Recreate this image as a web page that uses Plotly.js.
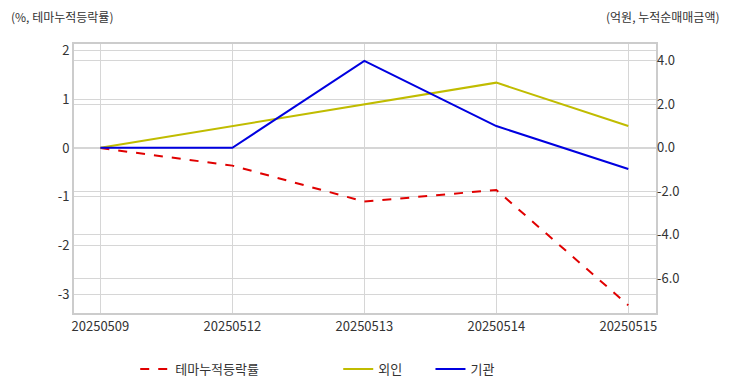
<!DOCTYPE html>
<html><head><meta charset="utf-8">
<script src="https://cdn.plot.ly/plotly-3.0.1.min.js"></script>
<style>body{margin:0;background:#fff}#c{width:732px;height:392px}</style>
</head><body><div id="c"></div>
<script>
const dates = ["20250509","20250512","20250513","20250514","20250515"];
const themeRate = [0, -0.36, -1.1, -0.86, -3.23];
const foreign = [0, 1.0, 2.0, 3.0, 1.0];
const inst = [0, 0, 4.0, 1.0, -0.98];
const leftTicks = [-3,-2,-1,0,1,2];
const leftTickText = ["-3","-2","-1","0","1","2"];
const rightTicks = [-6,-4,-2,0,2,4];
const rightTickText = ["-6.0","-4.0","-2.0","0.0","2.0","4.0"];
const FONT = "'Noto Sans CJK KR', 'Noto Sans', sans-serif";
const traces = [
  {x: dates, y: themeRate, name: "테마누적등락률", type: "scatter", mode: "lines",
   line: {color: "#e00000", width: 2, dash: "dash"}, yaxis: "y", legend: "legend"},
  {x: dates, y: foreign, name: "외인", type: "scatter", mode: "lines",
   line: {color: "#c0bc00", width: 2}, yaxis: "y2", legend: "legend2"},
  {x: dates, y: inst, name: "기관", type: "scatter", mode: "lines",
   line: {color: "#0000e0", width: 2}, yaxis: "y2", legend: "legend3"}
];
const legBase = {orientation: "h", y: -0.208, yanchor: "middle", xanchor: "left",
  font: {size: 13, color: "#333"}, bgcolor: "rgba(0,0,0,0)"};
const layout = {
  width: 732, height: 392,
  margin: {l: 74, r: 76, t: 44, b: 79, autoexpand: false},
  paper_bgcolor: "#fff", plot_bgcolor: "#fff",
  font: {family: FONT, size: 13, color: "#333"},
  showlegend: true,
  legend: Object.assign({}, legBase, {x: 0.1052}),
  legend2: Object.assign({}, legBase, {x: 0.454}),
  legend3: Object.assign({}, legBase, {x: 0.6125}),
  xaxis: {type: "category", range: [-0.2, 4.21], showgrid: true, gridcolor: "#d6d6d6",
    showline: true, linecolor: "#cccccc", linewidth: 2, mirror: true, ticks: "",
    tickfont: {size: 13, color: "#333"}, zeroline: false},
  yaxis: {range: [-3.39, 2.14], tickvals: leftTicks, ticktext: leftTickText, showgrid: true,
    gridcolor: "#d6d6d6", zeroline: false, showline: true, linecolor: "#cccccc", linewidth: 2,
    mirror: true, ticks: "", tickfont: {size: 13, color: "#333"}},
  yaxis2: {overlaying: "y", side: "right", range: [-7.61, 4.78], tickvals: rightTicks,
    ticktext: rightTickText, showgrid: true, gridcolor: "#d6d6d6", zeroline: false, ticks: "",
    tickfont: {size: 13, color: "#333"}},
  annotations: [
    {text: "(%, 테마누적등락률)", xref: "paper", yref: "paper", x: -0.111, xanchor: "left",
     y: 1 + 28/269, yanchor: "middle", showarrow: false, font: {size: 12, color: "#333"}},
    {text: "(억원, 누적순매매금액)", xref: "paper", yref: "paper", x: 1.1135, xanchor: "right",
     y: 1 + 28/269, yanchor: "middle", showarrow: false, font: {size: 12, color: "#333"}}
  ]
};
Plotly.newPlot("c", traces, layout, {displayModeBar: false, staticPlot: true});
</script></body></html>
